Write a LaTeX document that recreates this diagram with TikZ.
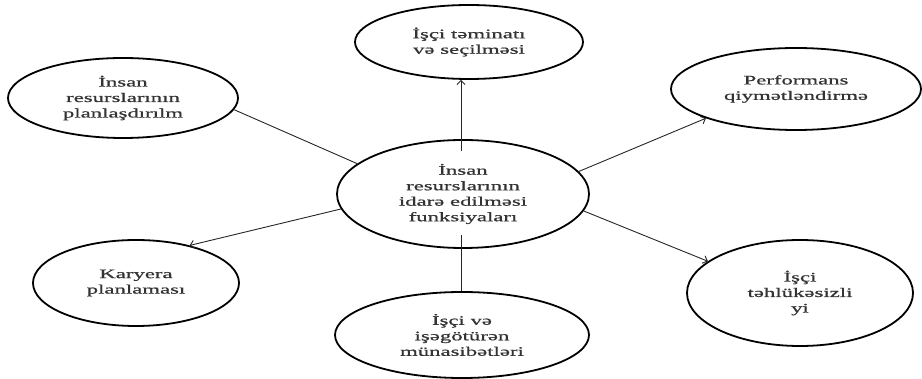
\documentclass[tikz,border=0pt]{standalone}
\usepackage{fontspec}
\setmainfont{Liberation Serif}[FakeStretch=1.75,FakeBold=0.8]
\usetikzlibrary{shapes.geometric,arrows.meta}
\begin{document}
\begin{tikzpicture}[x=1pt,y=-1pt,
  ell/.style={ellipse,draw=black,line width=1.8pt,inner sep=0pt,align=center,
    text=black!80,font=\fontsize{13}{15.5}\selectfont},
  link/.style={draw=black!85,line width=0.9pt},
  arr/.style={link,-{Straight Barb[length=4pt,width=8pt]}}]
\useasboundingbox (0,0) rectangle (922,379);
\node[ell,minimum width=252pt,minimum height=108pt] (c) at (463,194)
  {İnsan\\resurslarının\\idarə edilməsi\\funksiyaları};
\node[ell,minimum width=228pt,minimum height=74pt] (t) at (469,42)
  {İşçi təminatı\\və seçilməsi};
\node[ell,minimum width=230pt,minimum height=80pt] (tl) at (123,98)
  {İnsan\\resurslarının\\planlaşdırılm};
\node[ell,minimum width=250pt,minimum height=82pt] (tr) at (796,89)
  {Performans\\qiymətləndirmə};
\node[ell,minimum width=206pt,minimum height=86pt] (bl) at (136,283)
  {Karyera\\planlaması};
\node[ell,minimum width=254pt,minimum height=86pt] (b) at (462,335)
  {İşçi və\\işəgötürən\\münasibətləri};
\node[ell,minimum width=226pt,minimum height=106pt] (br) at (800,293)
  {İşçi\\təhlükəsizli\\yi};
\draw[arr] ([xshift=-2pt,yshift=-12pt]c.north) -- ([xshift=-2pt]c.north |- t.south);
\draw[link] (tl.-6) -- (c.164);
\draw[arr] (c.11) -- (tr.198);
\draw[arr] (c.187) -- (bl.35);
\draw[arr] (c.-8) -- (br.161);
\draw[link] ([xshift=-2pt,yshift=14pt]c.south) -- ([xshift=-2pt]c.south |- b.north);
\end{tikzpicture}
\end{document}
